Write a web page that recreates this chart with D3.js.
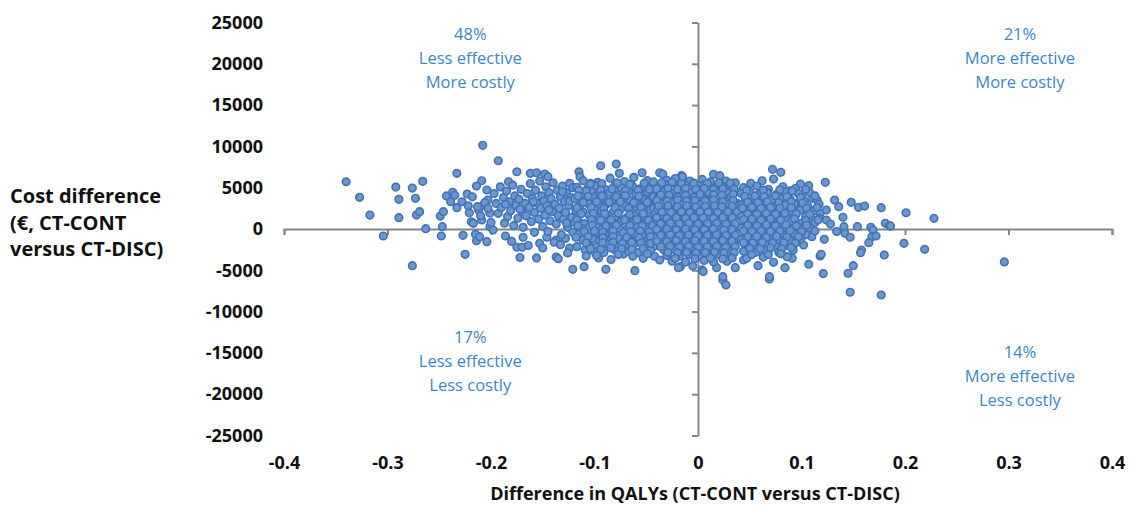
<!DOCTYPE html>
<html>
<head>
<meta charset="utf-8">
<script src="https://cdn.jsdelivr.net/npm/d3@7"></script>
<style>
  body { margin: 0; background: #fff; }
</style>
</head>
<body>
<div id="chart"></div>
<script>
// ---- data: [QALY difference, cost difference] ----
const leftTail = [
  [-0.340,5720],[-0.327,3830],[-0.317,1690],[-0.304,-850],[-0.292,5080],[-0.289,3590],[-0.289,1370],
  [-0.276,4960],[-0.273,3710],[-0.272,1690],[-0.269,2100],[-0.266,5770],[-0.276,-4440],[-0.263,40],
  [-0.248,-850],[-0.249,1570],[-0.246,2100],[-0.247,280],[-0.243,4000],[-0.237,4440],[-0.235,4080],
  [-0.239,3300],[-0.233,2580],[-0.228,3300],[-0.233,6740],[-0.225,-3060],[-0.227,-760],[-0.223,4240],
  [-0.221,1970],[-0.219,880],[-0.215,-640],[-0.214,-1420],[-0.211,-930],[-0.204,-1540],[-0.208,10130],
  [-0.209,5840],[-0.214,5200],[-0.217,690],[-0.212,2300],[-0.209,1090],[-0.207,2900],[-0.201,280],
  [-0.204,4720],[-0.203,3510],[-0.201,1940],[-0.218,3900],[-0.206,3200],[-0.213,2700],[-0.203,2500],
  [-0.210,1600],[-0.200,800],[-0.222,2800]
];

const bandA = [
  [-0.193,8260],[-0.175,6930],[-0.183,5720],[-0.162,6740],[-0.156,6810],[-0.148,6650],[-0.145,6330],
  [-0.124,5530],[-0.198,-120],[-0.186,-850],[-0.175,-2210],[-0.170,-2210],[-0.169,-1000],[-0.153,-1730],
  [-0.172,-3450],[-0.156,-3500],[-0.137,-3400],[-0.146,-1000],[-0.128,-1130],[-0.137,-1330],[-0.135,-3600],
  [-0.197,4300],[-0.195,3100],[-0.193,1900],[-0.191,5100],[-0.190,2600],[-0.188,3800],[-0.187,700],
  [-0.185,4600],[-0.184,1500],[-0.182,3300],[-0.181,2200],[-0.179,5300],[-0.178,400],[-0.177,4000],
  [-0.176,2900],[-0.174,1300],[-0.173,3600],[-0.171,4800],[-0.170,2100],[-0.169,200],[-0.167,3100],
  [-0.166,1600],[-0.165,4300],[-0.163,2600],[-0.162,5500],[-0.161,900],[-0.160,3700],[-0.158,-400],
  [-0.158,2000],[-0.157,4700],[-0.155,3100],[-0.154,1200],[-0.153,5800],[-0.152,2500],[-0.151,4000],
  [-0.150,300],[-0.149,3400],[-0.148,1700],[-0.147,5100],[-0.146,2800],[-0.145,-300],[-0.144,4400],
  [-0.143,1000],[-0.142,3700],[-0.141,2100],[-0.140,5600],[-0.139,-1600],[-0.138,3000],[-0.137,600],
  [-0.136,4700],[-0.135,1600],[-0.134,2500],[-0.133,3900],[-0.132,-700],[-0.131,5200],[-0.130,1200],
  [-0.129,3300],[-0.128,2000],[-0.127,4400],[-0.126,200],[-0.125,2800],[-0.124,-2300],[-0.123,3800],
  [-0.122,1400],[-0.121,5000],[-0.121,-400],
  [-0.180,-1500],[-0.164,-2000],[-0.150,-2300],[-0.133,-1900],[-0.126,-2900],[-0.186,3000],
  [-0.172,2400],[-0.159,3300],[-0.144,2300],[-0.131,4500],[-0.127,700],[-0.124,3400]
];

const bandB = [
  [-0.115,6930],[-0.114,6330],[-0.104,5530],[-0.094,7660],[-0.079,7860],[-0.076,6740],[-0.054,6810],
  [-0.121,-4880],[-0.110,-4560],[-0.089,-4880],[-0.117,-2140],[-0.109,-2540],[-0.108,-3270],[-0.072,-3030],
  [-0.053,-3550],[-0.061,-5040],[-0.084,-3700],[-0.096,-3500],[-0.042,-3300],
  [-0.111,5850],[-0.097,5650],[-0.085,6150],[-0.071,5750],[-0.062,6250],[-0.049,5850],
  [-0.117,5050],[-0.107,4850],[-0.100,5250],[-0.089,4750],[-0.080,5350],[-0.074,4950],[-0.063,5150],[-0.056,4850],[-0.045,5150],
  [-0.113,4250],[-0.103,4550],[-0.096,4150],[-0.085,4450],[-0.078,4150],[-0.067,4550],[-0.060,4250],[-0.049,4450],[-0.042,4150],
  [-0.119,3650],[-0.108,3450],[-0.101,3850],[-0.090,3550],[-0.083,3450],[-0.072,3750],[-0.065,3450],[-0.054,3750],[-0.047,3550],
  [-0.114,2850],[-0.106,3050],[-0.095,2750],[-0.088,3050],[-0.077,2850],[-0.070,2750],[-0.059,3050],[-0.052,2850],[-0.041,2750],
  [-0.118,2250],[-0.111,2050],[-0.100,2350],[-0.093,2150],[-0.082,2050],[-0.075,2350],[-0.064,2150],[-0.057,2050],[-0.046,2350],
  [-0.116,1450],[-0.105,1650],[-0.098,1350],[-0.087,1650],[-0.080,1450],[-0.069,1350],[-0.062,1650],[-0.051,1450],[-0.044,1350],
  [-0.119,750],[-0.110,650],[-0.099,950],[-0.092,750],[-0.081,650],[-0.074,950],[-0.063,750],[-0.056,650],[-0.045,950],
  [-0.112,50],[-0.105,250],[-0.094,-50],[-0.087,150],[-0.076,50],[-0.069,-50],[-0.058,250],[-0.051,50],[-0.041,-50],
  [-0.115,-650],[-0.108,-750],[-0.097,-450],[-0.090,-650],[-0.079,-750],[-0.072,-450],[-0.061,-650],[-0.054,-750],[-0.044,-450],
  [-0.111,-1350],[-0.102,-1150],[-0.095,-1450],[-0.084,-1250],[-0.077,-1150],[-0.066,-1450],[-0.059,-1250],[-0.048,-1150],
  [-0.105,-2050],[-0.098,-2150],[-0.087,-1850],[-0.080,-2050],[-0.069,-2150],[-0.062,-1850],[-0.051,-2050],[-0.043,-2150],
  [-0.100,-2750],[-0.091,-2850],[-0.080,-2550],[-0.067,-2750],[-0.058,-2850],[-0.046,-2550],
  [-0.104,5450],[-0.093,5500],[-0.078,5600],[-0.066,5400],[-0.052,5550],[-0.043,5700],
  [-0.115,4700],[-0.108,4600],[-0.094,4700],[-0.083,4850],[-0.070,4650],[-0.058,4700],[-0.047,4800],
  [-0.116,4000],[-0.106,3950],[-0.093,4000],[-0.079,3900],[-0.070,4050],[-0.057,3950],[-0.043,3900],
  [-0.111,3250],[-0.098,3300],[-0.086,3250],[-0.075,3300],[-0.062,3200],[-0.049,3250],
  [-0.117,2550],[-0.103,2600],[-0.091,2500],[-0.080,2600],[-0.067,2500],[-0.055,2600],[-0.043,2500],
  [-0.113,1850],[-0.101,1900],[-0.090,1850],[-0.077,1900],[-0.066,1800],[-0.053,1850],[-0.041,1900],
  [-0.117,1100],[-0.103,1150],[-0.094,1050],[-0.084,1150],[-0.071,1100],[-0.059,1150],[-0.048,1050],
  [-0.116,400],[-0.102,450],[-0.089,350],[-0.079,450],[-0.066,400],[-0.054,350],[-0.044,450],
  [-0.110,-300],[-0.100,-250],[-0.092,-350],[-0.082,-250],[-0.065,-300],[-0.056,-250],[-0.047,-350],
  [-0.118,-1000],[-0.106,-950],[-0.092,-1050],[-0.082,-950],[-0.069,-1000],[-0.057,-1050],[-0.046,-950],
  [-0.108,-1700],[-0.092,-1650],[-0.082,-1600],[-0.073,-1750],[-0.064,-1600],[-0.055,-1700],[-0.046,-1750],
  [-0.104,-2400],[-0.094,-2450],[-0.084,-2300],[-0.074,-2400],[-0.064,-2450],[-0.053,-2350],
  [-0.098,-3200],[-0.077,-3100],[-0.063,-3300],[-0.049,-3000]
];

const bandC = [
  [-0.037,6810],[-0.034,6650],[-0.016,6450],[-0.015,6330],[0.015,6620],[0.021,6450],[0.031,5200],
  [-0.037,-3750],[-0.017,-4560],[-0.005,-4480],[0.004,-4960],[0.005,-5160],[0.018,-4680],[0.024,-6170],
  [0.027,-6780],[0.036,-4680],[-0.019,-4680],[0.024,-5770],
  [-0.030,5900],[-0.022,6100],[-0.008,5800],[0.004,6000],[0.012,5700],[0.027,5800],[0.036,5600],
  [-0.037,5200],[-0.029,5300],[-0.020,5000],[-0.012,5300],[-0.003,5100],[0.006,5300],[0.015,5000],[0.023,5200],[0.033,5000],
  [-0.033,4500],[-0.025,4300],[-0.016,4600],[-0.007,4400],[0.002,4600],[0.010,4300],[0.019,4500],[0.028,4400],[0.037,4500],
  [-0.038,3800],[-0.029,3700],[-0.020,3900],[-0.011,3700],[-0.003,3900],[0.006,3700],[0.014,3800],[0.024,3600],[0.032,3900],
  [-0.034,3100],[-0.025,3200],[-0.016,3000],[-0.007,3200],[0.002,3000],[0.011,3100],[0.019,3200],[0.028,3000],[0.038,3100],
  [-0.039,2400],[-0.030,2300],[-0.021,2500],[-0.012,2300],[-0.003,2500],[0.006,2400],[0.015,2300],[0.024,2500],[0.033,2300],
  [-0.035,1700],[-0.026,1800],[-0.017,1600],[-0.008,1800],[0.001,1600],[0.010,1700],[0.019,1800],[0.028,1600],[0.037,1700],
  [-0.039,1000],[-0.030,900],[-0.021,1100],[-0.012,900],[-0.004,1100],[0.005,1000],[0.014,900],[0.023,1100],[0.032,1000],
  [-0.034,300],[-0.025,400],[-0.016,200],[-0.007,400],[0.002,200],[0.011,300],[0.020,400],[0.029,200],[0.038,300],
  [-0.038,-400],[-0.029,-500],[-0.020,-300],[-0.011,-500],[-0.002,-300],[0.007,-400],[0.016,-500],[0.025,-300],[0.034,-400],
  [-0.034,-1100],[-0.025,-1000],[-0.016,-1200],[-0.007,-1000],[0.002,-1200],[0.011,-1100],[0.020,-1000],[0.029,-1200],[0.038,-1100],
  [-0.037,-1800],[-0.028,-1900],[-0.019,-1700],[-0.010,-1900],[-0.001,-1700],[0.008,-1800],[0.017,-1900],[0.026,-1700],[0.035,-1800],
  [-0.033,-2500],[-0.024,-2400],[-0.015,-2600],[-0.006,-2400],[0.003,-2600],[0.012,-2500],[0.022,-2400],[0.031,-2600],
  [-0.030,-3200],[-0.018,-3300],[-0.009,-3100],[0.001,-3300],[0.009,-3200],[0.020,-3100],[0.030,-3300],
  [-0.025,-3900],[-0.012,-4000],[0.006,-3800],[0.015,-4000],[0.028,-3900],
  [-0.035,5600],[-0.025,5650],[-0.016,5500],[-0.004,5550],[0.009,5500],[0.020,5600],[0.031,5550],
  [-0.040,4850],[-0.029,4900],[-0.020,4800],[-0.012,4900],[-0.002,4800],[0.006,4900],[0.015,4800],[0.024,4850],[0.035,4800],
  [-0.036,4150],[-0.028,4100],[-0.012,4100],[0.002,4200],[0.015,4150],[0.023,4100],[0.034,4200],
  [-0.040,3450],[-0.030,3400],[-0.020,3500],[-0.011,3400],[-0.003,3450],[0.007,3400],[0.015,3500],[0.024,3300],[0.034,3450],
  [-0.038,2750],[-0.029,2800],[-0.020,2700],[-0.011,2800],[-0.002,2700],[0.007,2750],[0.016,2800],[0.023,2700],[0.033,2750],
  [-0.035,2050],[-0.026,2000],[-0.016,2100],[-0.008,2000],[0.002,2100],[0.010,2050],[0.019,2000],[0.029,2100],[0.038,2050],
  [-0.040,1350],[-0.030,1300],[-0.021,1400],[-0.012,1300],[-0.004,1400],[0.005,1350],[0.015,1300],[0.024,1400],[0.033,1350],
  [-0.036,650],[-0.027,700],[-0.018,600],[-0.009,700],[0.000,600],[0.009,650],[0.018,700],[0.027,600],[0.036,650],
  [-0.040,-50],[-0.030,0],[-0.021,-100],[-0.012,0],[-0.003,-100],[0.006,-50],[0.015,0],[0.025,-100],[0.033,-50],
  [-0.036,-750],[-0.027,-700],[-0.018,-800],[-0.009,-700],[0.000,-800],[0.009,-750],[0.018,-700],[0.027,-800],[0.036,-750],
  [-0.040,-1450],[-0.030,-1500],[-0.021,-1400],[-0.012,-1500],[-0.003,-1400],[0.006,-1450],[0.015,-1500],[0.024,-1400],[0.033,-1450],
  [-0.036,-2150],[-0.027,-2100],[-0.018,-2200],[-0.009,-2100],[0.000,-2200],[0.009,-2150],[0.018,-2100],[0.027,-2200],[0.036,-2150],
  [-0.029,-2850],[-0.020,-2900],[-0.011,-2800],[-0.002,-2900],[0.007,-2850],[0.016,-2800],[0.025,-2900],[0.035,-2850],
  [-0.022,-3550],[-0.003,-3600],[0.012,-3500],[0.024,-3600],[0.033,-3500]
];

const bandD = [
  [0.072,7220],[0.080,6860],[0.073,6050],[0.062,5840],[0.051,5530],[0.099,5450],[0.107,5240],[0.089,4630],
  [0.100,4110],[0.111,3710],[0.044,-3750],[0.058,-4440],[0.069,-6050],[0.073,-4030],[0.084,-4680],[0.091,-3550],
  [0.107,-4270],[0.118,-3270],[0.047,-3550],[0.069,-5770],[0.086,-3350],[0.092,-2540],[0.102,-1940],[0.110,-930],
  [0.095,2500],[0.111,1090],[0.118,1900],[0.063,-3400],
  [0.044,5000],[0.057,5200],[0.068,4800],[0.082,5100],[0.094,4900],
  [0.042,4300],[0.050,4500],[0.059,4200],[0.067,4400],[0.076,4200],[0.085,4500],[0.097,4300],[0.108,4400],
  [0.046,3600],[0.054,3500],[0.063,3700],[0.071,3500],[0.080,3700],[0.089,3600],[0.103,3400],[0.115,3500],
  [0.042,2900],[0.050,3000],[0.059,2800],[0.067,3000],[0.076,2800],[0.084,2900],[0.093,3100],[0.106,2800],[0.117,3000],
  [0.046,2200],[0.054,2100],[0.063,2300],[0.071,2100],[0.080,2200],[0.089,2000],[0.099,2300],[0.112,2200],
  [0.042,1500],[0.050,1600],[0.059,1400],[0.067,1600],[0.076,1500],[0.085,1400],[0.094,1600],[0.104,1500],[0.117,1300],
  [0.046,800],[0.054,700],[0.063,900],[0.071,700],[0.080,800],[0.090,900],[0.100,700],[0.113,800],
  [0.042,100],[0.050,200],[0.059,0],[0.067,200],[0.076,100],[0.086,0],[0.097,200],[0.108,100],
  [0.046,-600],[0.054,-700],[0.063,-500],[0.072,-700],[0.081,-600],[0.092,-500],[0.104,-700],
  [0.042,-1300],[0.051,-1200],[0.060,-1400],[0.069,-1200],[0.078,-1300],[0.089,-1400],[0.099,-1200],
  [0.046,-2000],[0.055,-2100],[0.065,-1900],[0.075,-2100],[0.084,-2000],
  [0.044,-2700],[0.056,-2800],[0.066,-2600],[0.078,-2800],
  [0.047,4650],[0.063,4700],[0.079,4750],[0.091,4600],[0.104,4800],
  [0.045,3950],[0.055,4000],[0.064,3900],[0.075,4000],[0.086,3900],[0.099,3800],[0.113,4000],
  [0.048,3250],[0.058,3200],[0.067,3300],[0.078,3200],[0.090,3300],[0.101,3150],
  [0.043,2550],[0.052,2600],[0.061,2500],[0.070,2600],[0.079,2500],[0.090,2600],[0.105,2500],[0.115,2600],
  [0.048,1850],[0.057,1800],[0.066,1900],[0.075,1800],[0.084,1900],[0.095,1850],[0.108,1800],
  [0.044,1150],[0.052,1200],[0.061,1100],[0.070,1200],[0.080,1100],[0.093,1200],[0.104,1050],[0.116,1100],
  [0.048,450],[0.057,400],[0.066,500],[0.075,400],[0.085,500],[0.095,400],[0.105,450],
  [0.044,-250],[0.052,-300],[0.061,-200],[0.070,-300],[0.079,-250],[0.089,-200],[0.100,-300],[0.113,-250],
  [0.048,-950],[0.057,-900],[0.066,-1000],[0.076,-900],[0.086,-1000],[0.097,-950],
  [0.044,-1650],[0.053,-1700],[0.062,-1600],[0.072,-1700],[0.083,-1650],[0.094,-1700],
  [0.050,-2350],[0.060,-2400],[0.070,-2300],[0.081,-2400],[0.090,-2250],
  [0.052,-3100],[0.068,-3100],[0.080,-3000]
];

const rightTail = [
  [0.123,5650],[0.148,3230],[0.155,2630],[0.161,2780],[0.177,2580],[0.136,2700],[0.140,1420],[0.124,1090],
  [0.124,2300],[0.154,280],[0.167,200],[0.169,-120],[0.181,690],[0.185,400],[0.141,280],[0.142,-520],
  [0.147,-1000],[0.168,-930],[0.165,-1660],[0.172,-850],[0.158,-2540],[0.157,-2870],[0.180,-3150],[0.122,-1250],
  [0.119,-3060],[0.121,-5400],[0.145,-5360],[0.150,-4440],[0.147,-7660],[0.177,-7990],[0.201,1970],[0.228,1290],
  [0.186,360],[0.199,-1730],[0.219,-2460],[0.296,-3990],[0.132,3500],[0.128,600],[0.134,-300]
];

const xTicks = [-0.4, -0.3, -0.2, -0.1, 0, 0.1, 0.2, 0.3, 0.4];
const yTicks = [-25000, -20000, -15000, -10000, -5000, 0, 5000, 10000, 15000, 20000, 25000];

const quadrantText = [
  ["48%", "Less effective", "More costly"],
  ["21%", "More effective", "More costly"],
  ["17%", "Less effective", "Less costly"],
  ["14%", "More effective", "Less costly"]
];
const yTitle = ["Cost difference", "(€, CT-CONT", "versus CT-DISC)"];
const xTitle = "Difference in QALYs (CT-CONT versus CT-DISC)";

// ---- chart ----
const width = 1129;
const height = 505;
const font = "'Open Sans', 'Liberation Sans', sans-serif";

const svg = d3.select("#chart")
  .append("svg")
  .attr("width", width)
  .attr("height", height)
  .style("background", "#fff");

const x = d3.scaleLinear().domain([-0.4, 0.4]).range([284, 1112]);
const y = d3.scaleLinear().domain([-25000, 25000]).range([435.5, 22.5]);

// axes through the origin
svg.append("g")
  .attr("transform", `translate(0,${y(0)})`)
  .call(d3.axisBottom(x).tickValues(xTicks).tickSize(6).tickSizeOuter(6).tickFormat(""))
  .call(g => g.selectAll("path, line").attr("stroke", "#868686").attr("stroke-width", 2));

svg.append("g")
  .attr("transform", `translate(${x(0)},0)`)
  .call(d3.axisLeft(y).tickValues(yTicks).tickSize(6).tickSizeOuter(0).tickFormat(""))
  .call(g => g.selectAll("path, line").attr("stroke", "#868686").attr("stroke-width", 2));

// tick labels on the outside
svg.append("g")
  .attr("transform", "translate(266,0)")
  .call(d3.axisLeft(y).tickValues(yTicks).tickSize(0).tickPadding(3).tickFormat(d => d))
  .call(g => g.select(".domain").remove())
  .call(g => g.selectAll("text")
    .style("font-family", font).style("font-size", "18px").style("font-weight", "bold").attr("fill", "#111"));

svg.append("g")
  .attr("transform", "translate(0,456)")
  .call(d3.axisBottom(x).tickValues(xTicks).tickSize(0).tickPadding(0).tickFormat(d => d))
  .call(g => g.select(".domain").remove())
  .call(g => g.selectAll("text")
    .style("font-family", font).style("font-size", "18px").style("font-weight", "bold").attr("fill", "#111"));

// axis titles
svg.append("text")
  .attr("x", x(0) - 3)
  .attr("y", 500)
  .attr("text-anchor", "middle")
  .style("font-family", font)
  .style("font-size", "18px")
  .style("font-weight", "bold")
  .attr("fill", "#111")
  .text(xTitle);

svg.append("g").selectAll("text")
  .data(yTitle)
  .join("text")
  .attr("x", 10)
  .attr("y", (d, i) => 203 + i * 26.5)
  .style("font-family", font)
  .style("font-size", "20px")
  .style("font-weight", "bold")
  .attr("fill", "#111")
  .text(d => d);

// quadrant annotations
const quadPos = [
  {qx: -0.22, top: 34},
  {qx: 0.311, top: 34},
  {qx: -0.22, top: 337},
  {qx: 0.311, top: 352}
];
quadrantText.forEach((lines, qi) => {
  svg.append("g").selectAll("text")
    .data(lines)
    .join("text")
    .attr("x", x(quadPos[qi].qx))
    .attr("y", (d, i) => quadPos[qi].top + i * 24)
    .attr("dy", "0.35em")
    .attr("text-anchor", "middle")
    .style("font-family", font)
    .style("font-size", "16.5px")
    .attr("fill", "#3a88c4")
    .text(d => d);
});

// points
const points = [].concat(leftTail, bandA, bandB, bandC, bandD, rightTail);
svg.append("g").selectAll("circle")
  .data(points)
  .join("circle")
  .attr("cx", d => x(d[0]))
  .attr("cy", d => y(d[1]))
  .attr("r", 3.8)
  .attr("fill", "#6a97d0")
  .attr("stroke", "#4372b5")
  .attr("stroke-width", 1.6);
</script>
</body>
</html>
